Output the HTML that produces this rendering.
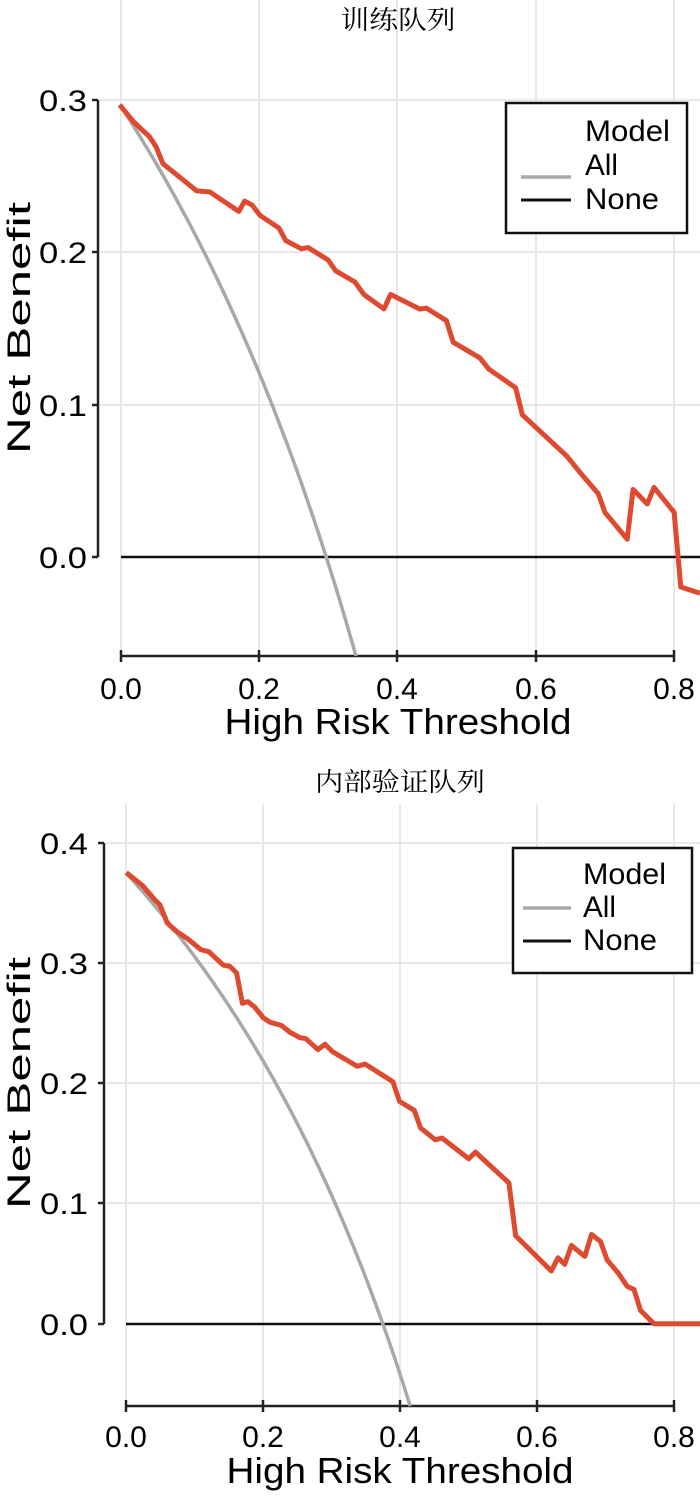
<!DOCTYPE html>
<html><head><meta charset="utf-8"><style>
html,body{margin:0;padding:0;background:#fff;}
svg{display:block;}
text{font-family:"Liberation Sans",Arial,sans-serif;fill:#000;}
.t{font-family:"Liberation Serif","Noto Serif CJK SC","Noto Sans CJK SC",serif;}
</style></head><body>
<svg id="s" width="700" height="1496" viewBox="0 0 700 1496" xmlns="http://www.w3.org/2000/svg">
<!-- TOP CHART -->
<g stroke="#e8e8e8" stroke-width="2" fill="none">
  <line x1="121" y1="0" x2="121" y2="652"/><line x1="259" y1="0" x2="259" y2="652"/>
  <line x1="397" y1="0" x2="397" y2="652"/><line x1="536" y1="0" x2="536" y2="652"/>
  <line x1="674" y1="0" x2="674" y2="652"/>
  <line x1="100" y1="100" x2="700" y2="100"/><line x1="100" y1="252" x2="700" y2="252"/>
  <line x1="100" y1="405" x2="700" y2="405"/>
</g>
<g stroke="#222" stroke-width="2.5" fill="none">
  <line x1="98" y1="100" x2="98" y2="557"/>
  <line x1="92" y1="100" x2="98" y2="100"/><line x1="92" y1="252" x2="98" y2="252"/>
  <line x1="92" y1="405" x2="98" y2="405"/><line x1="92" y1="557" x2="98" y2="557"/>
  <line x1="121" y1="656" x2="674" y2="656"/>
  <line x1="121" y1="650" x2="121" y2="662"/><line x1="259" y1="650" x2="259" y2="662"/>
  <line x1="397" y1="650" x2="397" y2="662"/><line x1="536" y1="650" x2="536" y2="662"/>
  <line x1="674" y1="650" x2="674" y2="662"/>
</g>
<line x1="121" y1="557" x2="700" y2="557" stroke="#111" stroke-width="2.5"/>
<path id="all1" fill="none" stroke="#a8a8a8" stroke-width="3.5"/>
<g transform="translate(0,60) scale(0.44643,0.41494)">
<polyline fill="none" stroke="#de4a30" stroke-width="5" stroke-linejoin="round" vector-effect="non-scaling-stroke" points="268,108 300,150 335,185 350,210 365,250 440,315 470,318 535,365 548,340 565,350 583,375 625,405 640,435 675,455 690,452 735,482 752,508 795,535 815,565 860,600 875,565 940,600 955,598 1000,628 1015,680 1075,718 1095,745 1155,790 1170,855 1230,915 1270,955 1300,995 1340,1045 1355,1090 1405,1155 1418,1035 1450,1070 1465,1030 1510,1090 1525,1270 1568,1285"/>
</g>
<g font-size="30" text-anchor="end">
  <text x="87" y="111" textLength="48" lengthAdjust="spacingAndGlyphs">0.3</text><text x="87" y="263" textLength="48" lengthAdjust="spacingAndGlyphs">0.2</text>
  <text x="87" y="416" textLength="48" lengthAdjust="spacingAndGlyphs">0.1</text><text x="87" y="568" textLength="48" lengthAdjust="spacingAndGlyphs">0.0</text>
</g>
<g font-size="30" text-anchor="middle">
  <text x="121" y="699">0.0</text><text x="259" y="699">0.2</text>
  <text x="397" y="699">0.4</text><text x="536" y="699">0.6</text><text x="674" y="699">0.8</text>
</g>
<text x="398" y="734" font-size="36" text-anchor="middle" textLength="347" lengthAdjust="spacingAndGlyphs">High Risk Threshold</text>
<text transform="translate(30,328) rotate(-90)" font-size="32" text-anchor="middle" textLength="252" lengthAdjust="spacingAndGlyphs">Net Benefit</text>
<text class="t" x="398" y="29" font-size="26" text-anchor="middle" textLength="115" lengthAdjust="spacingAndGlyphs">训练队列</text>
<rect x="506" y="103" width="181" height="130" fill="#fff" stroke="#111" stroke-width="2.5"/>
<line x1="521" y1="177" x2="571" y2="177" stroke="#a8a8a8" stroke-width="3.5"/>
<line x1="521" y1="200" x2="571" y2="200" stroke="#111" stroke-width="3"/>
<g font-size="30"><text x="585" y="141" textLength="85" lengthAdjust="spacingAndGlyphs">Model</text><text x="585" y="175" textLength="33" lengthAdjust="spacingAndGlyphs">All</text><text x="585" y="209" textLength="74" lengthAdjust="spacingAndGlyphs">None</text></g>

<!-- BOTTOM CHART -->
<g stroke="#e8e8e8" stroke-width="2" fill="none">
  <line x1="126" y1="804" x2="126" y2="1402"/><line x1="263" y1="804" x2="263" y2="1402"/>
  <line x1="400" y1="804" x2="400" y2="1402"/><line x1="537" y1="804" x2="537" y2="1402"/>
  <line x1="674" y1="804" x2="674" y2="1402"/>
  <line x1="106" y1="843" x2="700" y2="843"/><line x1="106" y1="963" x2="700" y2="963"/>
  <line x1="106" y1="1083" x2="700" y2="1083"/><line x1="106" y1="1203" x2="700" y2="1203"/>
</g>
<g stroke="#222" stroke-width="2.5" fill="none">
  <line x1="104" y1="843" x2="104" y2="1324"/>
  <line x1="98" y1="843" x2="104" y2="843"/><line x1="98" y1="963" x2="104" y2="963"/>
  <line x1="98" y1="1083" x2="104" y2="1083"/><line x1="98" y1="1203" x2="104" y2="1203"/>
  <line x1="98" y1="1324" x2="104" y2="1324"/>
  <line x1="126" y1="1406" x2="674" y2="1406"/>
  <line x1="126" y1="1400" x2="126" y2="1412"/><line x1="263" y1="1400" x2="263" y2="1412"/>
  <line x1="400" y1="1400" x2="400" y2="1412"/><line x1="537" y1="1400" x2="537" y2="1412"/>
  <line x1="674" y1="1400" x2="674" y2="1412"/>
</g>
<line x1="126" y1="1324" x2="700" y2="1324" stroke="#111" stroke-width="2.5"/>
<path id="all2" fill="none" stroke="#a8a8a8" stroke-width="3.5"/>
<g transform="translate(0,800) scale(0.44643,0.44014)">
<polyline fill="none" stroke="#de4a30" stroke-width="5" stroke-linejoin="round" vector-effect="non-scaling-stroke" points="283,165 320,195 345,225 358,238 375,280 395,298 420,315 450,340 468,345 500,375 515,378 530,393 543,462 555,458 570,470 590,495 605,505 630,512 650,528 672,540 685,542 712,567 728,555 745,572 800,605 818,600 880,640 895,685 928,705 942,745 975,772 990,768 1050,815 1065,800 1140,870 1155,990 1235,1070 1250,1040 1265,1055 1280,1012 1310,1037 1325,987 1345,1003 1360,1045 1385,1075 1405,1105 1420,1112 1435,1160 1465,1190 1568,1190"/>
</g>
<g font-size="30" text-anchor="end">
  <text x="88" y="854" textLength="48" lengthAdjust="spacingAndGlyphs">0.4</text><text x="88" y="974" textLength="48" lengthAdjust="spacingAndGlyphs">0.3</text>
  <text x="88" y="1094" textLength="48" lengthAdjust="spacingAndGlyphs">0.2</text><text x="88" y="1214" textLength="48" lengthAdjust="spacingAndGlyphs">0.1</text><text x="88" y="1335" textLength="48" lengthAdjust="spacingAndGlyphs">0.0</text>
</g>
<g font-size="30" text-anchor="middle">
  <text x="126" y="1447">0.0</text><text x="263" y="1447">0.2</text>
  <text x="400" y="1447">0.4</text><text x="537" y="1447">0.6</text><text x="674" y="1447">0.8</text>
</g>
<text x="400" y="1483" font-size="36" text-anchor="middle" textLength="347" lengthAdjust="spacingAndGlyphs">High Risk Threshold</text>
<text transform="translate(30,1083) rotate(-90)" font-size="32" text-anchor="middle" textLength="252" lengthAdjust="spacingAndGlyphs">Net Benefit</text>
<text class="t" x="400" y="791" font-size="26" text-anchor="middle" textLength="170" lengthAdjust="spacingAndGlyphs">内部验证队列</text>
<rect x="513" y="848" width="179" height="125" fill="#fff" stroke="#111" stroke-width="2.5"/>
<line x1="523" y1="908" x2="571" y2="908" stroke="#a8a8a8" stroke-width="3.5"/>
<line x1="523" y1="941" x2="571" y2="941" stroke="#111" stroke-width="3"/>
<g font-size="30"><text x="583" y="884" textLength="83" lengthAdjust="spacingAndGlyphs">Model</text><text x="583" y="917" textLength="33" lengthAdjust="spacingAndGlyphs">All</text><text x="583" y="950" textLength="74" lengthAdjust="spacingAndGlyphs">None</text></g>
</svg>
<script>
function allPath(p,x0,sx,y0,sy,yb){var d="",t;for(var i=0;i<=200;i++){t=i/200*0.45;var nb=p-(1-p)*t/(1-t);var y=y0-nb*sy;if(y>yb){var nbe=(y0-yb)/sy;var tt=(p-nbe)/(1-nbe);d+="L"+(x0+tt*sx).toFixed(1)+","+yb;break;}d+=(i?"L":"M")+(x0+t*sx).toFixed(1)+","+y.toFixed(1);}return d;}
document.getElementById("all1").setAttribute("d",allPath(0.297,121,691,557,1517,656));
document.getElementById("all2").setAttribute("d",allPath(0.375,126,685,1324,1203,1406));
</script>
</body></html>
